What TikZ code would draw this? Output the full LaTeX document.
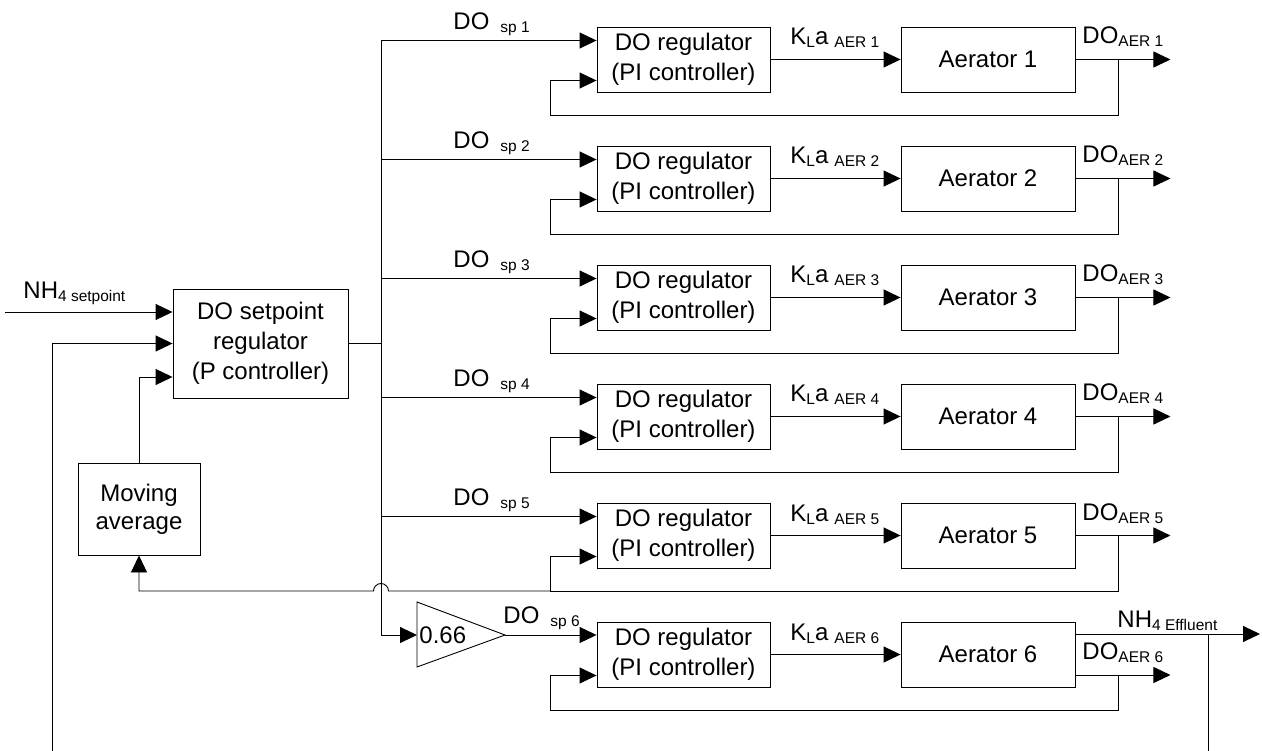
\documentclass[tikz,border=0pt]{standalone}
\usepackage{fontspec}
\setmainfont{Liberation Sans}
\usepackage{tikz}
\usetikzlibrary{
  positioning,
  arrows.meta,
  calc
}
\newcommand{\lsub}[1]{{\fontsize{15.5}{16}\selectfont\raisebox{-3pt}{#1}}}

\begin{document}
\begin{tikzpicture}[x=1pt, y=-1pt, line width=0.9pt,
    >={Triangle[length=17pt, width=16pt]},
    font=\fontsize{24}{30}\selectfont,
    blk/.style={draw, align=center, inner sep=0pt},
    regbox/.style={blk, minimum width=173pt, minimum height=65pt},
    aerbox/.style={blk, minimum width=174pt, minimum height=65pt},
    lbl/.style={anchor=base west, inner sep=0pt}]
    \useasboundingbox (0,0) rectangle (1262,751);
    \def\rowgap{119}

    % 调节器与曝气池
    \foreach \i in {1,...,6}{
        \pgfmathsetmacro{\T}{27+\rowgap*(\i-1)}
        \pgfmathsetmacro{\fy}{\i==6 ? \T+53 : \T+32.5}
        \node[regbox] (reg\i) at (683.5,\T+32.5) {DO regulator\\(PI controller)};
        \node[aerbox] (aer\i) at (988,\T+32.5) {Aerator \i};
        \draw[->] (reg\i) -- (aer\i);
        \node[lbl] (kla\i) at (790,\T+18) {K\lsub{L}a\hspace{6pt}\lsub{AER \i}};
        % 反馈回路
        \coordinate (tap\i) at (1118,\fy);
        \coordinate (low\i) at (550,\T+88);
        \coordinate (fb\i) at (550,\T+53.5);
        \draw[->] (aer\i.east |- tap\i) -- ++(95,0);
        \draw[->] (tap\i) |- (low\i) -- (fb\i) -- (fb\i -| reg\i.west);
        \node[lbl] (doaer\i) at (1082,\fy-15.5) {DO\lsub{AER \i}};
    }

    % 设定值分配
    \foreach \i in {1,...,5}{
        \pgfmathsetmacro{\T}{27+\rowgap*(\i-1)}
        \coordinate (sp\i) at (381,\T+13.5);
        \draw[->] (sp\i) -- (sp\i -| reg\i.west);
        \node[lbl] (lsp\i) at (453,\T+2.5) {DO\hspace{11pt}\lsub{sp \i}};
    }
    \coordinate (g6in) at (417,635);
    \coordinate (g6out) at (505,635);
    \draw[->] (sp1) |- (g6in);
    \draw (g6in) -- (417,602) -- (g6out) -- (417,667) -- cycle;
    \node[anchor=west, inner sep=2pt] (gain) at (g6in) {0.66};
    \draw[->] (g6out) -- (g6out -| reg6.west);
    \node[lbl] (lsp6) at (503,623.5) {DO\hspace{11pt}\lsub{sp 6}};

    % DO 设定值调节器
    \node[blk, minimum width=175pt, minimum height=109pt] (dosp) at (260.5,343.5)
        {DO setpoint\\regulator\\(P controller)};
    \draw (dosp.east) -- (dosp.east -| sp1);
    \coordinate (nhin) at (5,312);
    \draw[->] (nhin) -- (nhin -| dosp.west);
    \node[lbl] (lnh) at (23,299) {NH\lsub{4 setpoint}};

    % 出水 NH4 反馈
    \coordinate (eff) at (1260,634);
    \coordinate (effdn) at (1208,751);
    \coordinate (lft) at (52,751);
    \draw[->] (aer6.east |- eff) -- (eff);
    \draw (effdn) -- (effdn |- eff);
    \draw[->] (lft) |- (dosp.west);
    \node[lbl] (lnheff) at (1117,627) {NH\lsub{4 Effluent}};

    % 滑动平均
    \node[blk, minimum width=122pt, minimum height=92pt, font=\fontsize{24}{28}\selectfont]
        (mavg) at (139,509) {Moving\\average};
    \draw[->] (mavg.north) |- ($(dosp.west)+(0,33.5)$);
    \draw[->] (low5) -- (388.5,591) arc[start angle=0, end angle=180, radius=7.5pt]
        -- (mavg.south |- low5) -- (mavg.south);
\end{tikzpicture}
\end{document}
